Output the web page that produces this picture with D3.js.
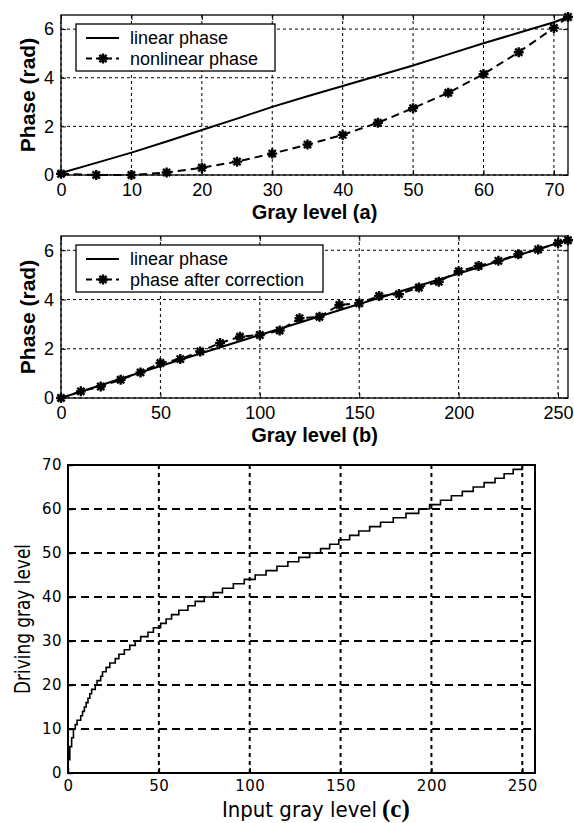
<!DOCTYPE html>
<html>
<head>
<meta charset="utf-8">
<script src="https://cdn.jsdelivr.net/npm/d3@7"></script>
<style>
  body { margin: 0; background: #fff; }
  svg { display: block; }
  .tick text { fill: #000; }
</style>
</head>
<body>
<svg width="574" height="823"></svg>
<script>
// panel (a): phase vs gray level
const grayA = [0, 5, 10, 15, 20, 25, 30, 35, 40, 45, 50, 55, 60, 65, 70, 72]
const linearA = [0.08, 0.5, 0.92, 1.38, 1.85, 2.32, 2.8, 3.24, 3.66, 4.08, 4.5, 4.96, 5.42, 5.85, 6.28, 6.5]
const nonlinearA = [0.05, 0, 0, 0.1, 0.3, 0.55, 0.88, 1.25, 1.65, 2.15, 2.75, 3.38, 4.15, 5.05, 6.05, 6.5]
const ticksA = [0, 10, 20, 30, 40, 50, 60, 70]

// panel (b): after correction
const grayB = [0, 10, 20, 30, 40, 50, 60, 70, 80, 90, 100, 110, 120, 130, 140, 150, 160, 170, 180, 190, 200, 210, 220, 230, 240, 250, 255]
const correctedB = [0, 0.27, 0.47, 0.74, 1.04, 1.42, 1.58, 1.89, 2.23, 2.49, 2.56, 2.74, 3.24, 3.3, 3.78, 3.85, 4.14, 4.22, 4.49, 4.72, 5.15, 5.36, 5.57, 5.84, 6.03, 6.3, 6.41]
const grayLinB = [0, 50, 100, 150, 200, 255]
const linearB = [0, 1.3, 2.56, 3.82, 5.06, 6.42]
const ticksB = [0, 50, 100, 150, 200, 250]

const phaseTicks = [0, 2, 4, 6]

// panel (c): lookup table, input gray level where each driving level starts
const drivingLevel = [0, 1, 2, 3, 4, 5, 6, 7, 8, 9, 10, 11, 12, 13, 14, 15, 16, 17, 18, 19, 20,
  21, 22, 23, 24, 25, 26, 27, 28, 29, 30, 31, 32, 33, 34, 35, 36, 37, 38, 39, 40,
  41, 42, 43, 44, 45, 46, 47, 48, 49, 50, 51, 52, 53, 54, 55, 56, 57, 58, 59, 60,
  61, 62, 63, 64, 65, 66, 67, 68, 69, 70, 70]
const inputStart = [0, 0, 0, 1, 1, 1, 2, 2, 3, 3, 4, 5, 7, 8, 9, 10, 11, 12, 13, 15, 16,
  18, 19, 21, 23, 26, 28, 31, 34, 37, 40, 44, 47, 51, 54, 57, 61, 66, 70, 75, 80,
  85, 91, 97, 103, 109, 115, 121, 127, 133, 139, 144, 149, 155, 160, 166, 172, 179, 186, 193, 199,
  205, 211, 217, 223, 229, 235, 240, 245, 250, 254, 255]
const ticksCx = [0, 50, 100, 150, 200, 250]
const ticksCy = [0, 10, 20, 30, 40, 50, 60, 70]

const svg = d3.select('svg')

function asterisk (g, x, y) {
  const r = 5
  const d = r * 0.72
  g.append('path')
    .attr('d', `M${x - r},${y}L${x + r},${y}M${x},${y - r}L${x},${y + r}` +
      `M${x - d},${y - d}L${x + d},${y + d}M${x - d},${y + d}L${x + d},${y - d}`)
    .attr('stroke', '#000')
    .attr('stroke-width', 2.4)
    .attr('fill', 'none')
}

function drawPhasePanel ({top, bottom, xMax, xTicks, lines, legend, legendW, xLabel}) {
  const left = 61
  const right = 568
  const x = d3.scaleLinear().domain([0, xMax]).range([left, right])
  const y = d3.scaleLinear().domain([0, 6.58]).range([bottom, top])
  const g = svg.append('g')

  // dotted grid
  xTicks.forEach(t => {
    g.append('line').attr('x1', x(t)).attr('x2', x(t)).attr('y1', top).attr('y2', bottom)
      .attr('stroke', '#000').attr('stroke-width', 1).attr('stroke-dasharray', '3,3')
  })
  phaseTicks.forEach(t => {
    g.append('line').attr('x1', left).attr('x2', right).attr('y1', y(t)).attr('y2', y(t))
      .attr('stroke', '#000').attr('stroke-width', 1).attr('stroke-dasharray', '3,3')
  })

  const xAxis = g.append('g').attr('transform', `translate(0,${bottom})`)
    .call(d3.axisBottom(x).tickValues(xTicks).tickSizeInner(-5).tickSizeOuter(0).tickPadding(8))
  const yAxis = g.append('g').attr('transform', `translate(${left},0)`)
    .call(d3.axisLeft(y).tickValues(phaseTicks).tickSizeInner(-5).tickSizeOuter(0).tickPadding(7).tickFormat(d3.format('d')))
  g.append('g').attr('transform', `translate(0,${top})`)
    .call(d3.axisTop(x).tickValues(xTicks).tickSizeInner(-5).tickSizeOuter(0).tickFormat(''))
  g.append('g').attr('transform', `translate(${right},0)`)
    .call(d3.axisRight(y).tickValues(phaseTicks).tickSizeInner(-5).tickSizeOuter(0).tickFormat(''))
  g.selectAll('.domain').remove()
  g.selectAll('.tick line').attr('stroke', '#000')
  ;[xAxis, yAxis].forEach(a => a.selectAll('text')
    .style('font-family', '"Liberation Sans", Arial, sans-serif')
    .style('font-size', '18px'))

  g.append('rect').attr('x', left).attr('y', top).attr('width', right - left).attr('height', bottom - top)
    .attr('fill', 'none').attr('stroke', '#000').attr('stroke-width', 1.3)

  const line = d3.line().x(d => x(d[0])).y(d => y(d[1]))
  lines.forEach(s => {
    const pts = s.xs.map((v, i) => [v, s.ys[i]])
    g.append('path').datum(pts)
      .attr('d', line)
      .attr('fill', 'none')
      .attr('stroke', '#000')
      .attr('stroke-width', 2)
      .attr('stroke-dasharray', s.dashed ? '8,5' : null)
    if (s.markers) pts.forEach(p => asterisk(g, x(p[0]), y(p[1])))
  })

  // legend
  const lx = 76
  const ly = top + 9
  g.append('rect').attr('x', lx).attr('y', ly).attr('width', legendW).attr('height', 47)
    .attr('fill', '#fff').attr('stroke', '#000').attr('stroke-width', 1.3)
  legend.forEach((name, i) => {
    const cy = ly + 14 + i * 20.5
    g.append('line').attr('x1', lx + 10).attr('x2', lx + 43).attr('y1', cy).attr('y2', cy)
      .attr('stroke', '#000').attr('stroke-width', 2)
      .attr('stroke-dasharray', i === 1 ? '6,4' : null)
    if (i === 1) asterisk(g, lx + 27, cy)
    g.append('text').attr('x', lx + 54).attr('y', cy + 6)
      .style('font-family', '"Liberation Sans", Arial, sans-serif')
      .style('font-size', '18px')
      .text(name)
  })

  g.append('text')
    .attr('x', (left + right) / 2).attr('y', bottom + 44)
    .attr('text-anchor', 'middle')
    .style('font-family', '"Liberation Sans", Arial, sans-serif')
    .style('font-size', '20px').style('font-weight', 'bold')
    .text(xLabel)
  g.append('text')
    .attr('transform', `translate(35,${(top + bottom) / 2}) rotate(-90)`)
    .attr('text-anchor', 'middle')
    .style('font-family', '"Liberation Sans", Arial, sans-serif')
    .style('font-size', '21px').style('font-weight', 'bold')
    .text('Phase (rad)')
}

drawPhasePanel({
  top: 15,
  bottom: 175,
  xMax: 72,
  xTicks: ticksA,
  lines: [
    {xs: grayA, ys: linearA},
    {xs: grayA, ys: nonlinearA, dashed: true, markers: true}
  ],
  legend: ['linear phase', 'nonlinear phase'],
  legendW: 199,
  xLabel: 'Gray level (a)'
})

drawPhasePanel({
  top: 236,
  bottom: 398,
  xMax: 255,
  xTicks: ticksB,
  lines: [
    {xs: grayLinB, ys: linearB},
    {xs: grayB, ys: correctedB, dashed: true, markers: true}
  ],
  legend: ['linear phase', 'phase after correction'],
  legendW: 247,
  xLabel: 'Gray level (b)'
})

// panel (c)
function drawLookupPanel () {
  const left = 68
  const right = 535
  const top = 465
  const bottom = 773
  const x = d3.scaleLinear().domain([0, 257]).range([left, right])
  const y = d3.scaleLinear().domain([0, 70]).range([bottom, top])
  const g = svg.append('g')

  ticksCx.forEach(t => {
    if (t === 0) return
    g.append('line').attr('x1', x(t)).attr('x2', x(t)).attr('y1', top).attr('y2', bottom)
      .attr('stroke', '#000').attr('stroke-width', 2).attr('stroke-dasharray', '4,4')
  })
  ticksCy.forEach(t => {
    if (t === 0 || t === 70) return
    g.append('line').attr('x1', left).attr('x2', right).attr('y1', y(t)).attr('y2', y(t))
      .attr('stroke', '#000').attr('stroke-width', 2).attr('stroke-dasharray', '8,5')
  })

  const tickFont = a => a.selectAll('text')
    .style('font-family', '"DejaVu Sans", sans-serif')
    .style('font-size', '15px')
    .style('letter-spacing', '0.5px')
  g.append('g').attr('transform', `translate(0,${bottom})`)
    .call(d3.axisBottom(x).tickValues(ticksCx).tickSizeInner(-5).tickSizeOuter(0).tickPadding(7))
    .call(tickFont)
  g.append('g').attr('transform', `translate(${left},0)`)
    .call(d3.axisLeft(y).tickValues(ticksCy).tickSizeInner(-5).tickSizeOuter(0).tickPadding(6))
    .call(tickFont)
  g.selectAll('.domain').remove()
  g.selectAll('.tick line').attr('stroke', '#000').attr('stroke-width', 1.5)

  g.append('rect').attr('x', left).attr('y', top).attr('width', right - left).attr('height', bottom - top)
    .attr('fill', 'none').attr('stroke', '#000').attr('stroke-width', 2)

  const pts = inputStart.map((v, i) => [v, drivingLevel[i]])
  g.append('path').datum(pts)
    .attr('d', d3.line().x(d => x(d[0])).y(d => y(d[1])).curve(d3.curveStepBefore))
    .attr('fill', 'none')
    .attr('stroke', '#000')
    .attr('stroke-width', 1.6)

  g.append('text')
    .attr('x', 222).attr('y', 817)
    .attr('textLength', 155)
    .attr('lengthAdjust', 'spacingAndGlyphs')
    .style('font-family', '"Liberation Sans Narrow", "DejaVu Sans Condensed", "Liberation Sans", sans-serif')
    .style('font-size', '21px')
    .text('Input gray level')
  g.append('text')
    .attr('x', 382).attr('y', 817)
    .style('font-family', '"Liberation Serif", "Times New Roman", serif')
    .style('font-weight', 'bold')
    .style('font-size', '25px')
    .text('(c)')

  g.append('text')
    .attr('transform', `translate(30,${(top + bottom) / 2}) rotate(-90)`)
    .attr('text-anchor', 'middle')
    .attr('textLength', 150)
    .attr('lengthAdjust', 'spacingAndGlyphs')
    .style('font-family', '"Liberation Sans Narrow", "DejaVu Sans Condensed", "Liberation Sans", sans-serif')
    .style('font-size', '21px')
    .text('Driving gray level')
}

drawLookupPanel()
</script>
</body>
</html>
